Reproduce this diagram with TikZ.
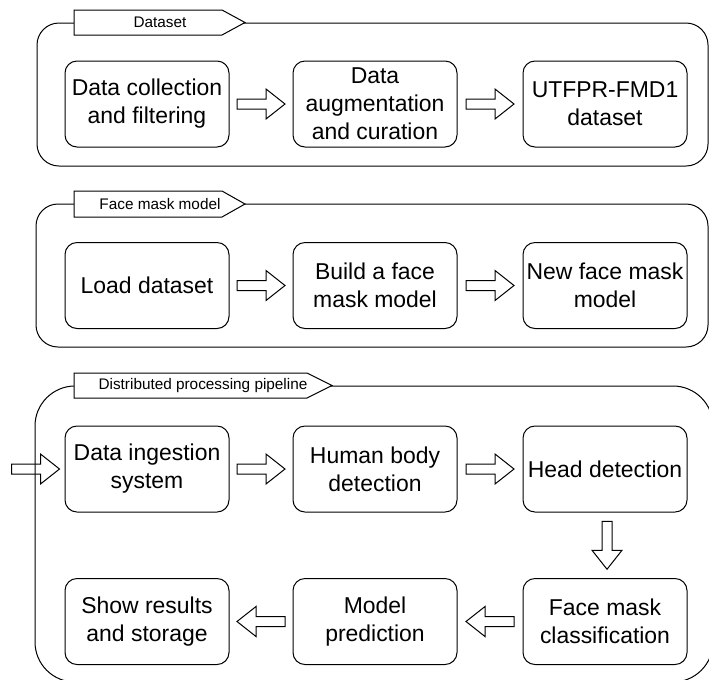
\documentclass[tikz,border=0pt]{standalone}
\usepackage{fontspec}
\setmainfont{Liberation Sans}
\usetikzlibrary{calc}
\begin{document}
\begin{tikzpicture}[x=0.75pt,y=-0.75pt,
  line width=0.75pt,
  stepbox/.style={draw, rounded corners=9pt, minimum width=123pt, minimum height=64.5pt,
    align=center, inner sep=0pt, font=\fontsize{17.2}{21}\selectfont},
  tagtext/.style={inner sep=0pt, font=\fontsize{11.5}{13}\selectfont},
  stage/.style={draw},
  tagshape/.style={draw, fill=white},
  blockarr/.pic={\draw (-24,-5) -- (5,-5) -- (5,-15) -- (24,0) -- (5,15) -- (5,5) -- (-24,5) -- cycle;}]
\useasboundingbox (0,0) rectangle (709,679);
\clip (0,0) rectangle (709,679);

% stage frames
\draw[stage, rounded corners=16.5pt] (37,23) rectangle (708,166);
\draw[stage, rounded corners=16.5pt] (36,204) rectangle (708,347);
\draw[stage, rounded corners=30pt] (35,386) rectangle (713,682);

% stage tags
\draw[tagshape] (74,10) -- (222,10) -- (245,22.5) -- (222,35) -- (74,35) -- cycle;
\node[tagtext] (tagA) at (160,22.5) {Dataset};
\draw[tagshape] (74,191) -- (222,191) -- (245,204) -- (222,217) -- (74,217) -- cycle;
\node[tagtext] (tagB) at (160,204) {Face mask model};
\draw[tagshape] (74,373) -- (307,373) -- (332,385.5) -- (307,398) -- (74,398) -- cycle;
\node[tagtext] (tagC) at (203,385.5) {Distributed processing pipeline};

% dataset stage
\node[stepbox] (collect) at (147,104) {Data collection\\and filtering};
\node[stepbox] (augment) at (375,104) {Data\\augmentation\\and curation};
\node[stepbox] (utfpr) at (605,104) {UTFPR-FMD1\\dataset};

% model stage
\node[stepbox] (load) at (147,285.5) {Load dataset};
\node[stepbox] (build) at (375,285.5) {Build a face\\mask model};
\node[stepbox] (newmodel) at (605,285.5) {New face mask\\model};

% pipeline stage
\node[stepbox] (ingest) at (147,469) {Data ingestion\\system};
\node[stepbox] (body) at (375,469) {Human body\\detection};
\node[stepbox] (head) at (605,469) {Head detection};
\node[stepbox] (classify) at (605,621.5) {Face mask\\classification};
\node[stepbox] (predict) at (375,621.5) {Model\\prediction};
\node[stepbox] (show) at (147,621.5) {Show results\\and storage};

% block arrows between steps
\pic at ($(collect.east)!0.5!(augment.west)$) {blockarr};
\pic at ($(augment.east)!0.5!(utfpr.west)$) {blockarr};
\pic at ($(load.east)!0.5!(build.west)$) {blockarr};
\pic at ($(build.east)!0.5!(newmodel.west)$) {blockarr};
\coordinate (input) at ($(ingest.west)+(-29,0)$);
\pic at (input) {blockarr};
\pic at ($(ingest.east)!0.5!(body.west)$) {blockarr};
\pic at ($(body.east)!0.5!(head.west)$) {blockarr};
\pic[rotate=-90] at ($(head.south)!0.5!(classify.north)+(2,0)$) {blockarr};
\pic[rotate=180] at ($(classify.west)!0.5!(predict.east)$) {blockarr};
\pic[rotate=180] at ($(predict.west)!0.5!(show.east)$) {blockarr};
\end{tikzpicture}
\end{document}
